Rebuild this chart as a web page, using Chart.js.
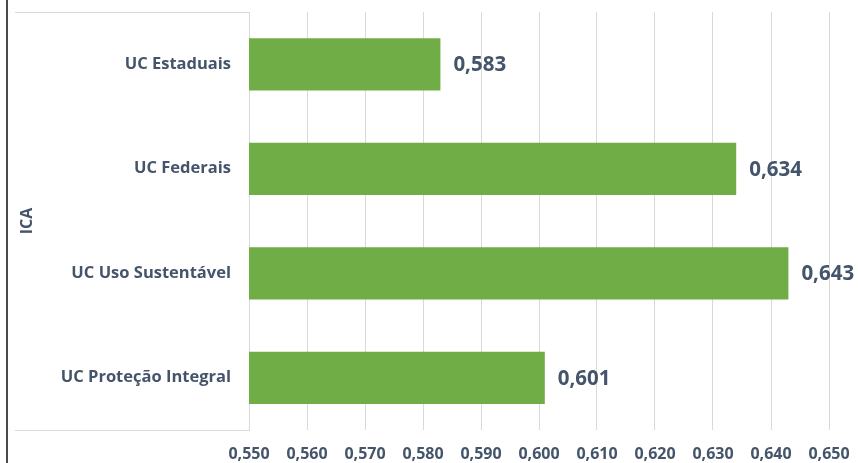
<!DOCTYPE html>
<html>
<head>
<meta charset="utf-8">
<script src="https://cdn.jsdelivr.net/npm/chart.js@4"></script>
<style>
  html, body { margin: 0; padding: 0; background: #fff; }
  #wrap { position: relative; width: 858px; height: 463px; }
  #wrap:before { content: ""; position: absolute; left: 6px; top: 0; bottom: 0; border-left: 2px solid #4a4a4a; }
</style>
</head>
<body>
<div id="wrap"><canvas id="ica" width="858" height="463"></canvas></div>
<script>
// Data
const categories = ["UC Estaduais", "UC Federais", "UC Uso Sustentável", "UC Proteção Integral"];
const icaValues = [0.583, 0.634, 0.643, 0.601];
const axisMin = 0.55;
const axisMax = 0.65;
const axisStep = 0.01;

const textColor = "#44546a";
const gridColor = "#d9d9d9";
const fmt = (v) => Number(v).toFixed(3).replace(".", ",");

// value labels at the end of each bar
const valueLabels = {
  id: "valueLabels",
  afterDatasetsDraw(chart) {
    const { ctx } = chart;
    const meta = chart.getDatasetMeta(0);
    ctx.save();
    ctx.font = "bold 20.5px 'Open Sans'";
    ctx.fillStyle = textColor;
    ctx.textBaseline = "middle";
    ctx.textAlign = "left";
    meta.data.forEach((bar, i) => {
      ctx.fillText(fmt(icaValues[i]), bar.x + 13, bar.y + 1);
    });
    ctx.restore();
  },
};

// box lines round the category labels
const labelBox = {
  id: "labelBox",
  beforeDatasetsDraw(chart) {
    const { ctx, chartArea } = chart;
    ctx.save();
    ctx.strokeStyle = gridColor;
    ctx.lineWidth = 1;
    ctx.beginPath();
    ctx.moveTo(15, chartArea.top + 0.5);
    ctx.lineTo(chartArea.left, chartArea.top + 0.5);
    ctx.moveTo(15, chartArea.bottom + 0.5);
    ctx.lineTo(chartArea.left, chartArea.bottom + 0.5);
    ctx.stroke();
    ctx.restore();
  },
};

new Chart(document.getElementById("ica"), {
  type: "bar",
  data: {
    labels: categories,
    datasets: [
      {
        label: "ICA",
        data: icaValues,
        backgroundColor: "#70ad47",
        barPercentage: 0.5,
        categoryPercentage: 1.0,
      },
    ],
  },
  options: {
    indexAxis: "y",
    responsive: false,
    animation: false,
    layout: { padding: { top: 12, right: 29, left: 0, bottom: 0 } },
    plugins: {
      legend: { display: false },
      tooltip: { enabled: false },
    },
    scales: {
      x: {
        min: axisMin,
        max: axisMax,
        grid: { color: gridColor, drawTicks: false },
        border: { display: false },
        ticks: {
          stepSize: axisStep,
          color: textColor,
          padding: 15,
          font: { family: "'Open Sans'", size: 16, weight: "bold" },
          callback: (v) => fmt(v),
        },
        afterFit(scale) {
          scale.height = 33;
          scale.paddingLeft = 0;
          scale.paddingRight = 0;
        },
      },
      y: {
        grid: { display: false },
        border: { display: true, color: gridColor },
        ticks: {
          color: textColor,
          padding: 10,
          font: { family: "'Open Sans'", size: 16.5, weight: "bold" },
        },
        title: {
          display: true,
          text: "ICA",
          color: textColor,
          padding: { top: 18 },
          font: { family: "'Open Sans'", size: 16, weight: "bold" },
        },
        afterFit(scale) {
          scale.width = 249;
          scale.paddingTop = 0;
          scale.paddingBottom = 0;
        },
      },
    },
  },
  plugins: [valueLabels, labelBox],
});
</script>
</body>
</html>
